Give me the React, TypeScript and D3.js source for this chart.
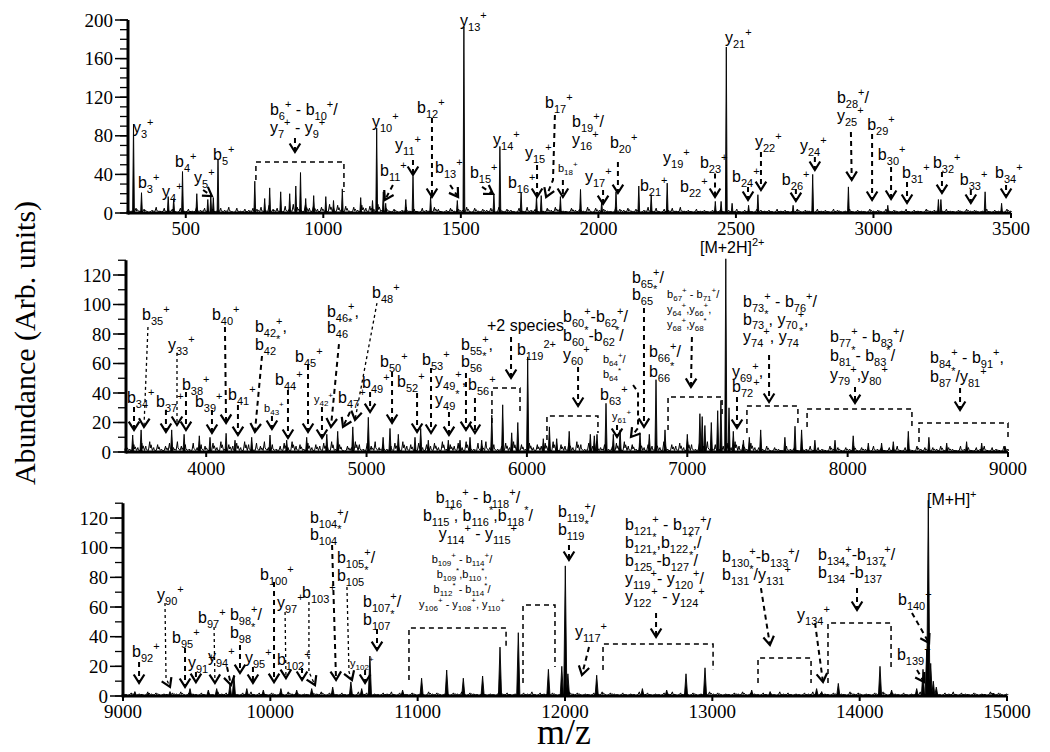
import React from 'react';
import * as d3 from 'd3';

// ---------------- DATA ----------------
// Panel 1 (m/z 290-3500) peaks: [m/z, abundance]
const P1_PEAKS: [number, number][] = [
  [310, 92], [339, 21], [436, 17], [456, 15], [488, 43], [540, 20], [580, 14], [591, 18], [600, 16], [617, 55],
  [751, 33], [787, 15], [805, 26], [845, 22], [878, 20], [900, 28], [917, 42], [936, 15], [965, 18], [1009, 17],
  [1037, 13], [1069, 25], [1136, 16], [1179, 13], [1194, 88], [1218, 22], [1227, 10], [1300, 14], [1326, 38], [1390, 17],
  [1487, 13], [1511, 193], [1620, 20], [1642, 69], [1719, 21], [1775, 17], [1792, 18], [1862, 17], [1935, 24.5], [2012, 12],
  [2064, 22], [2147, 28], [2192, 19], [2250, 31], [2425, 12], [2446, 12], [2465, 172], [2486, 10], [2546, 8], [2580, 19],
  [2708, 8], [2779, 40], [2909, 27], [3052, 8], [3236, 14], [3245, 14], [3406, 22], [3466, 10],
];
// Panel 2 (m/z 3500-9000)
const P2_PEAKS: [number, number][] = [
  [3542, 11.5], [3594, 15], [3785, 15], [3862, 12], [3957, 11], [4024, 10], [4124, 12.7], [4180, 8], [4284, 10], [4398, 11.5],
  [4502, 8], [4627, 10], [4752, 12], [4820, 14], [4914, 17], [5011, 23.5], [5103, 10], [5146, 16], [5198, 12], [5302, 10],
  [5338, 16], [5385, 8], [5510, 8], [5583, 8], [5645, 10], [5718, 8], [5781, 25], [5849, 32], [5905, 13], [5943, 20],
  [6005, 64.5], [6102, 9], [6140, 17], [6186, 9], [6264, 14], [6395, 12], [6420, 11], [6437, 12], [6493, 33], [6539, 12],
  [6581, 15], [6705, 13], [6763, 12], [6805, 49], [6861, 15], [7000, 12], [7079, 26], [7093, 24], [7110, 18], [7150, 20],
  [7190, 28], [7210, 35], [7240, 131], [7260, 30], [7287, 14], [7350, 8], [7387, 10], [7458, 15], [7609, 10], [7672, 17.5],
  [7713, 15], [7796, 8], [7921, 8], [8035, 11], [8129, 6], [8212, 6], [8285, 7], [8378, 14], [8507, 10], [8618, 6],
  [8742, 7], [8836, 6], [8981, 4],
];
// Panel 3 (m/z 9000-15000)
const P3_PEAKS: [number, number][] = [
  [9081, 3], [9172, 2], [9319, 3], [9455, 5], [9579, 4], [9636, 5], [9726, 8], [9753, 14], [9840, 5], [9952, 4],
  [10072, 5], [10179, 4], [10281, 5], [10423, 6], [10547, 9.5], [10620, 5], [10676, 27], [10898, 4], [11027, 12], [11197, 17.5],
  [11310, 12], [11441, 13.5], [11559, 33], [11683, 42.7], [11887, 18], [11978, 20], [12002, 87.7], [12020, 15], [12215, 14], [12525, 5],
  [12690, 4], [12821, 15], [12950, 19], [13267, 4], [13392, 3], [13708, 5], [13742, 3], [13855, 8.5], [14138, 20], [14217, 4],
  [14387, 5], [14430, 18], [14455, 31], [14466, 132], [14482, 22], [14500, 10], [14520, 6], [14907, 2],
];

// Baseline noise, one digit per sample, evenly spread over each panel's m/z range
const P1_NOISE =
  '32524136253415242635142536152435' +
  '4638452749638574639584726385749' +
  '352413624153264135243615243516243152634125364215342615342164352413625143526' +
  '2314231324132413214323142312413214231431241321423142312413214231242131423124132142';
const P2_NOISE =
  '4253647352463745263541637254637526473524637452635463725143752647352463745263546372546375264735246374526354637254637526473524637452635463725463752647352463745263' +
  '3241321423132413214231324132142313241321423132413214231324132142';
const P3_NOISE =
  '21312142312132413213121423121324132131214231213241321312142312132413213121423121324132131214231213241321312142312132413213121423121324132131214231213241321312142312132413213121423121324132131214231213241321312142312';

// Annotations: t = text lines (markup: _{sub} ^{sup}), x/y = m/z & abundance of first baseline,
// a = dashed arrow path in data coords (last point = arrow tip)
type Ann = { t: string[]; x: number; y: number; sm?: boolean; mid?: boolean; lh?: number; thin?: boolean; a?: [number, number][] };

const P1_ANN: Ann[] = [
  { t: ['y_{3}^{+}'], x: 308, y: 83 },
  { t: ['b_{3}^{+}'], x: 326, y: 26 },
  { t: ['y_{4}^{+}'], x: 414, y: 16.6 },
  { t: ['b_{4}^{+}'], x: 461, y: 47.7 },
  { t: ['y_{5}^{+}'], x: 530, y: 31, a: [[563, 23.8], [595, 17.6]] },
  { t: ['b_{5}^{+}'], x: 599, y: 55 },
  { t: ['b_{6}^{+} - b_{10}^{+}/', 'y_{7}^{+} - y_{9}^{+}'], x: 806, y: 101.6, a: [[897, 77.7], [897, 63.2]] },
  { t: ['y_{10}^{+}'], x: 1177, y: 89 },
  { t: ['b_{11}^{+}'], x: 1206, y: 38.3, a: [[1253, 29], [1224, 13.5]] },
  { t: ['y_{11}^{+}'], x: 1261, y: 65.3, a: [[1326, 55], [1326, 39.4]] },
  { t: ['b_{12}^{+}'], x: 1341, y: 103.6, a: [[1395, 98.4], [1395, 16.6]] },
  { t: ['b_{13}^{+}'], x: 1406, y: 41.5, a: [[1461, 29], [1490, 16.6]] },
  { t: ['y_{13}^{+}'], x: 1497, y: 193.8 },
  { t: ['b_{15}^{+}'], x: 1533, y: 36.3, a: [[1577, 27], [1617, 19.7]] },
  { t: ['y_{14}^{+}'], x: 1617, y: 70.5 },
  { t: ['b_{16}^{+}'], x: 1671, y: 26 },
  { t: ['y_{15}^{+}'], x: 1733, y: 57, a: [[1777, 49.7], [1777, 16.6]] },
  { t: ['b_{17}^{+}'], x: 1806, y: 108.8, a: [[1842, 101.6], [1835, 34.2], [1810, 16.6]] },
  { t: ['b_{18}^{+}'], sm: true, x: 1853, y: 42.5, a: [[1871, 34.2], [1871, 16.6]] },
  { t: ['b_{19}^{+}/', 'y_{16}^{+}'], x: 1904, y: 89.1 },
  { t: ['y_{17}^{+}'], x: 1951, y: 32.1, a: [[2017, 23.8], [2017, 9.3]] },
  { t: ['b_{20}^{+}'], x: 2042, y: 67.4, a: [[2071, 52.9], [2071, 20.7]] },
  { t: ['b_{21}^{+}'], x: 2151, y: 22.8 },
  { t: ['y_{19}^{+}'], x: 2235, y: 51.8 },
  { t: ['b_{22}^{+}'], x: 2297, y: 21.8 },
  { t: ['b_{23}^{+}'], x: 2369, y: 46.6, a: [[2424, 41], [2424, 16.6]] },
  { t: ['y_{21}^{+}'], x: 2460, y: 176.2 },
  { t: ['b_{24}^{+}'], x: 2486, y: 32.1, a: [[2544, 27], [2544, 13.5]] },
  { t: ['y_{22}^{+}'], x: 2569, y: 68.4, a: [[2591, 63.2], [2591, 23.8]] },
  { t: ['b_{26}^{+}'], x: 2667, y: 29, a: [[2718, 24.9], [2718, 12.4]] },
  { t: ['y_{24}^{+}'], x: 2733, y: 64.2, a: [[2787, 58], [2787, 44.6]] },
  { t: ['b_{28}^{+}/', 'y_{25}^{+}'], x: 2867, y: 114, a: [[2918, 83.9], [2921, 34.2]] },
  { t: ['b_{29}^{+}'], x: 2977, y: 86, a: [[2995, 81.9], [2995, 13.5]] },
  { t: ['b_{30}^{+}'], x: 3016, y: 54.9, a: [[3064, 47.7], [3064, 14.5]] },
  { t: ['b_{31}^{+}'], x: 3104, y: 36.3, a: [[3122, 32.1], [3122, 10.4]] },
  { t: ['b_{32}^{+}'], x: 3216, y: 46.6, a: [[3249, 42.5], [3249, 20.7]] },
  { t: ['b_{33}^{+}'], x: 3314, y: 29, a: [[3354, 23.8], [3354, 10.4]] },
  { t: ['b_{34}^{+}'], x: 3442, y: 36.3, a: [[3482, 29], [3482, 16.6]] },
];
// boxes: [x1, x2, top, left-bottom, right-bottom] in data coords
const P1_BOX: [number, number, number, number, number][] = [[755, 1075, 52.8, 34.2, 21.8]];

const P2_ANN: Ann[] = [
  { t: ['b_{34}^{+}'], x: 3506, y: 33.2, a: [[3550, 30.5], [3550, 14.9]] },
  { t: ['b_{35}^{+}'], x: 3600, y: 89.5, thin: true, a: [[3637, 84.8], [3612, 17]] },
  { t: ['y_{33}^{+}'], x: 3762, y: 69.2, thin: true, a: [[3818, 67.1], [3818, 18.3]] },
  { t: ['b_{37}^{+}'], x: 3687, y: 30.5, a: [[3749, 28.5], [3749, 13.6]] },
  { t: ['b_{38}^{+}'], x: 3849, y: 42, a: [[3874, 40.7], [3874, 14.9]] },
  { t: ['b_{39}^{+}'], x: 3930, y: 30.5, a: [[4036, 28.5], [4036, 12.9]] },
  { t: ['b_{40}^{+}'], x: 4036, y: 89.5, a: [[4117, 84.8], [4124, 19.7]] },
  { t: ['b_{41}^{+}'], x: 4136, y: 35.3, a: [[4198, 31.9], [4198, 11.5]] },
  { t: ['b_{42}^{+},', 'b_{42}^{*}'], x: 4304, y: 81.4, a: [[4348, 65.1], [4304, 13.6]] },
  { t: ['b_{43}^{+}'], sm: true, x: 4361, y: 27.1, a: [[4410, 24.4], [4410, 15.6]] },
  { t: ['b_{44}^{+}'], x: 4429, y: 45.4, a: [[4510, 42], [4510, 9.5]] },
  { t: ['b_{45}^{+}'], x: 4554, y: 61, a: [[4635, 59], [4635, 13.6]] },
  { t: ['y_{42}^{+}'], sm: true, x: 4672, y: 33.2, a: [[4722, 30.5], [4722, 9.5]] },
  { t: ['b_{46}^{+},', 'b_{46}^{*}'], x: 4753, y: 91.5, lh: 16, a: [[4828, 73.2], [4778, 17]] },
  { t: ['b_{47}^{+}'], x: 4822, y: 33.2, a: [[4897, 27.1], [4853, 17]] },
  { t: ['b_{48}^{+}'], x: 5034, y: 104.4, thin: true, a: [[5065, 101], [4928, 21.7]] },
  { t: ['b_{49}^{+}'], x: 4972, y: 43.4, a: [[5022, 40.7], [5022, 27.1]] },
  { t: ['b_{50}^{+}'], x: 5084, y: 57.6, a: [[5159, 54.2], [5159, 19.7]] },
  { t: ['b_{52}^{+}'], x: 5190, y: 44.1, a: [[5315, 40], [5315, 13.6]] },
  { t: ['b_{53}^{+}'], x: 5346, y: 59, a: [[5402, 57], [5402, 12.9]] },
  { t: ['y_{49}^{+},', 'y_{49}^{*}'], x: 5427, y: 45.4, lh: 20, a: [[5514, 27.1], [5514, 11.5]] },
  { t: ['b_{55}^{+},', 'b_{56}^{*}'], x: 5589, y: 69.2, lh: 17, a: [[5620, 53.6], [5620, 14.9]] },
  { t: ['b_{56}^{+}'], x: 5633, y: 42, a: [[5676, 36.6], [5676, 12.9]] },
  { t: ['+2 species'], x: 5751, y: 82, a: [[5901, 78], [5901, 50.2]] },
  { t: ['b_{119}^{2+}'], x: 5938, y: 65.8 },
  { t: ['b_{60}^{+}-b_{62}^{+}/', 'b_{60}^{*}-b_{62}^{*}/', 'y_{60}^{+}'], x: 6225, y: 88.1, lh: 19, a: [[6319, 57.6], [6319, 31.2]] },
  { t: ['b_{64}^{+}/', 'b_{64}^{*}'], sm: true, x: 6474, y: 60.3, a: [[6662, 45.4], [6693, 40.7], [6693, 16.3], [6649, 10.2]] },
  { t: ['b_{63}^{+}'], x: 6456, y: 35.3 },
  { t: ['y_{61}^{+}'], sm: true, x: 6531, y: 21.7, a: [[6562, 18.3], [6562, 10.2]] },
  { t: ['b_{65}^{+}/', 'b_{65}^{*}'], x: 6655, y: 114.6, lh: 17, a: [[6730, 97.6], [6730, 17]] },
  { t: ['b_{66}^{+}/', 'b_{66}^{*}'], x: 6761, y: 64.4, lh: 20 },
  { t: ['b_{67}^{+} - b_{71}^{+}/', 'y_{64}^{+},y_{66}^{+},', 'y_{68}^{+},y_{68}^{*}'], sm: true, x: 6874, y: 104.4, a: [[7029, 78], [7023, 44.1]] },
  { t: ['[M+2H]^{2+}'], x: 7079, y: 134.9 },
  { t: ['b_{73}^{+} - b_{76}^{+}/', 'b_{73}^{*}, y_{70}^{+},', 'y_{74}^{+}, y_{74}^{*}'], x: 7348, y: 98.3, lh: 17.5, a: [[7510, 65.8], [7510, 33.9]] },
  { t: ['y_{69}^{+},', 'b_{72}^{+}'], x: 7279, y: 50.9, lh: 15.5, a: [[7310, 37.3], [7310, 16.3]] },
  { t: ['b_{77}^{+} - b_{83}^{+}/', 'b_{81}^{*}- b_{83}^{*}/', 'y_{79}^{+},y_{80}^{+}'], x: 7890, y: 74.6, lh: 19, a: [[8046, 44.1], [8046, 33.2]] },
  { t: ['b_{84}^{+} - b_{91}^{+},', 'b_{87}^{*}/y_{81}^{+}'], x: 8514, y: 60.3, lh: 19, a: [[8701, 43.4], [8701, 28.5]] },
];
const P2_BOX: [number, number, number, number, number][] = [
  [5782, 5957, 43.4, 19.7, 26.4],
  [6125, 6443, 24.4, 8.1, 12.9],
  [6880, 7217, 37.3, 14.9, 23.7],
  [7372, 7690, 31.2, 12.9, 17],
  [7747, 8401, 29.2, 17, 17],
  [8445, 9000, 19.7, 6.8, 8.1],
];

const P3_ANN: Ann[] = [
  { t: ['b_{92}^{+}'], x: 9061, y: 26.3, a: [[9109, 22.9], [9109, 8.8]] },
  { t: ['y_{90}^{+}'], x: 9231, y: 64.7, thin: true, a: [[9285, 62.7], [9292, 12.1], [9319, 6.1]] },
  { t: ['b_{95}^{+}'], x: 9333, y: 35.7, a: [[9421, 32.4], [9421, 6.1]] },
  { t: ['y_{91}^{+}'], x: 9441, y: 18.9, a: [[9495, 16.2], [9495, 9.4]] },
  { t: ['b_{97}^{+}'], x: 9509, y: 49.2, thin: true, a: [[9618, 46.5], [9624, 8.8]] },
  { t: ['y_{94}^{+}'], x: 9577, y: 22.9, a: [[9706, 19.6], [9733, 7.4]] },
  { t: ['b_{98}^{+}/', 'b_{98}^{*}'], x: 9726, y: 51.2, a: [[9794, 34.4], [9794, 15.5]] },
  { t: ['y_{95}^{+}'], x: 9828, y: 22.3, a: [[9882, 19.6], [9882, 8.8]] },
  { t: ['b_{100}^{+}'], x: 9930, y: 78.2, a: [[10025, 76.9], [10025, 9.4]] },
  { t: ['y_{97}^{+}'], x: 10045, y: 59.3, thin: true, a: [[10100, 56.6], [10106, 12.1]] },
  { t: ['b_{102}^{+}'], x: 10045, y: 20.9, a: [[10215, 18.9], [10215, 10.8]] },
  { t: ['b_{103}^{+}'], x: 10215, y: 66.1, thin: true, a: [[10262, 63.4], [10262, 16.2], [10303, 7.4]] },
  { t: ['b_{104}^{+}/', 'b_{104}^{*}'], x: 10269, y: 116.7, lh: 17, a: [[10419, 101.8], [10446, 10.8]] },
  { t: ['b_{105}^{+}/', 'b_{105}^{*}'], x: 10452, y: 89.7, thin: true, a: [[10520, 73.5], [10534, 16.2], [10554, 10.8]] },
  { t: ['y_{102}^{+}'], sm: true, x: 10541, y: 19.6, a: [[10643, 17.5], [10643, 8.8]] },
  { t: ['b_{107}^{+}/', 'b_{107}^{*}'], x: 10629, y: 60, a: [[10724, 45.2], [10724, 31]] },
  { t: ['b_{109}^{+} - b_{114}^{+}/', 'b_{109}^{*},b_{110}^{*},', 'b_{112}^{*} - b_{114}^{*}/', 'y_{106}^{+} - y_{108}^{+}, y_{110}^{+}'], sm: true, mid: true, x: 11301, y: 89.7 },
  { t: ['b_{116}^{+} - b_{118}^{+}/', 'b_{115}^{*}, b_{116}^{*},b_{118}^{*}/', 'y_{114}^{+} - y_{115}^{+}'], mid: true, x: 11409, y: 130.1 },
  { t: ['b_{119}^{+}/', 'b_{119}^{*}'], x: 11952, y: 120.7, a: [[12027, 101.8], [12027, 91.7]] },
  { t: ['y_{117}^{+}'], x: 12068, y: 39.8, a: [[12163, 33], [12115, 14.2]] },
  { t: ['b_{121}^{+} - b_{127}^{+}/', 'b_{121}^{*},b_{122}^{*},/', 'b_{125}^{*}-b_{127}^{*}/', 'y_{119}^{+}- y_{120}^{+}/', 'y_{122}^{+} - y_{124}^{+}'], x: 12407, y: 111.9, a: [[12618, 56], [12618, 39.8]] },
  { t: ['b_{130}^{+}-b_{133}^{+}/', 'b_{131}^{*}/y_{131}^{+}'], x: 13066, y: 90.4, a: [[13330, 72.8], [13391, 34.4]] },
  { t: ['y_{134}^{+}'], x: 13575, y: 51.2, a: [[13697, 49.2], [13751, 9.4]] },
  { t: ['b_{134}^{+}-b_{137}^{+}/', 'b_{134}^{*}-b_{137}^{*}'], x: 13717, y: 91.7, a: [[13982, 72.8], [13982, 58]] },
  { t: ['b_{140}^{+}'], x: 14260, y: 61.4, a: [[14355, 56], [14471, 35.7]] },
  { t: ['b_{139}^{+}'], x: 14253, y: 24.3, a: [[14389, 17.5], [14437, 9.4]] },
  { t: ['[M+H]^{+}'], x: 14457, y: 128.8 },
];
const P3_BOX: [number, number, number, number, number][] = [
  [10941, 11600, 45.9, 10.8, 33],
  [11715, 11932, 61.4, 8.8, 19.6],
  [12258, 13005, 35.1, 17.5, 17.5],
  [13310, 13670, 25.6, 8.8, 8.8],
  [13785, 14213, 49.2, 8.8, 19.6],
];

const P1_XTICKS = [500, 1000, 1500, 2000, 2500, 3000, 3500];
const P2_XTICKS = [4000, 5000, 6000, 7000, 8000, 9000];
const P3_XTICKS = [9000, 10000, 11000, 12000, 13000, 14000, 15000];
const P1_YTICKS = [0, 40, 80, 120, 160, 200];
const P23_YTICKS = [0, 20, 40, 60, 80, 100, 120];

// ---------------- RENDERING ----------------
const SANS = "'Liberation Sans', Arial, Helvetica, sans-serif";
const SERIF = "'Liberation Serif', 'Times New Roman', Times, serif";

type Seg = { k: 'n' | 'sub' | 'sup'; t: string };
function parseRich(s: string): Seg[] {
  const out: Seg[] = [];
  const re = /([_^])\{([^}]*)\}|([^_^]+)/g;
  let m: RegExpExecArray | null;
  while ((m = re.exec(s))) {
    if (m[1]) out.push({ k: m[1] === '_' ? 'sub' : 'sup', t: m[2] });
    else out.push({ k: 'n', t: m[3] });
  }
  return out;
}

function RichLine({ x, y, s, size, anchor }: { x: number; y: number; s: string; size: number; anchor: string }) {
  const segs = parseRich(s);
  const small = Math.round(size * 0.7);
  let shift = 0;
  return (
    <text x={x} y={y} textAnchor={anchor} fontFamily={SANS} fontSize={size} fill="#000" style={{ whiteSpace: 'pre' }}>
      {segs.map((g, i) => {
        const target = g.k === 'sub' ? size * 0.3 : g.k === 'sup' ? -size * 0.42 : 0;
        const dy = target - shift;
        shift = target;
        return (
          <tspan key={i} dy={dy} fontSize={g.k === 'n' ? size : small}>
            {g.t}
          </tspan>
        );
      })}
    </text>
  );
}

type Cfg = {
  xDomain: [number, number];
  xRange: [number, number];
  yDomain: [number, number];
  yRange: [number, number];
  xTicks: number[];
  yTicks: number[];
  yMinorMax: number;
  labelY: number;
  peaks: [number, number][];
  noise: string;
  noiseScale: number;
  peakW: number;
  ann: Ann[];
  boxes: [number, number, number, number, number][];
};

function Panel({ c }: { c: Cfg }) {
  const x = d3.scaleLinear().domain(c.xDomain).range(c.xRange);
  const y = d3.scaleLinear().domain(c.yDomain).range(c.yRange);
  const y0 = y(0);
  const x0 = c.xRange[0];

  // noise samples drawn as a spiky trace
  const n = c.noise.length;
  const step = (c.xDomain[1] - c.xDomain[0]) / (n - 1);
  const noisePts: [number, number][] = c.noise.split('').map((ch, i) => [c.xDomain[0] + i * step, +ch * c.noiseScale]);
  const trace: [number, number][] = [];
  noisePts.forEach((d, i) => {
    const px = x(d[0]);
    trace.push([px - 1.3, y0 - 1.5]);
    trace.push([px, y(d[1])]);
    trace.push([px + 0.6, y(d[1] * 0.4)]);
    if (i % 2 === 0) trace.push([px + 1.3, y(d[1] * 0.7)]);
  });
  const traceLine = d3.line();

  const peakPath = c.peaks
    .map(([m, v]) => {
      const px = x(m);
      const py = y(v);
      return `M${(px - c.peakW).toFixed(1)},${y0}L${px.toFixed(1)},${py.toFixed(1)}L${(px + c.peakW).toFixed(1)},${y0}Z`;
    })
    .join('');

  const minor: number[] = [];
  for (let v = 0; v <= c.yMinorMax; v += 10) minor.push(v);

  return (
    <g>
      {/* spectrum */}
      <path d={traceLine(trace) || ''} stroke="#000" strokeWidth={1} fill="none" strokeLinejoin="round" />
      <path d={peakPath} fill="#000" stroke="#000" strokeWidth={0.9} strokeLinejoin="miter" />

      {/* axes */}
      <line x1={x0} x2={c.xRange[1]} y1={y0} y2={y0} stroke="#000" strokeWidth={3} />
      <line x1={x0} x2={x0} y1={y0 + 1.5} y2={c.yRange[1]} stroke="#000" strokeWidth={3} />
      {minor.map((v) => (
        <line key={'m' + v} x1={x0 - 8} x2={x0} y1={y(v)} y2={y(v)} stroke="#000" strokeWidth={1.3} />
      ))}
      {c.yTicks.map((v) => (
        <g key={'y' + v}>
          <line x1={x0 - 13} x2={x0} y1={y(v)} y2={y(v)} stroke="#000" strokeWidth={1.5} />
          <text x={x0 - 15} y={y(v)} dy="0.35em" textAnchor="end" fontFamily={SERIF} fontSize={19} fill="#000">
            {v}
          </text>
        </g>
      ))}
      {c.xTicks.map((v) => (
        <g key={'x' + v}>
          <line x1={x(v)} x2={x(v)} y1={y0} y2={y0 + 5} stroke="#000" strokeWidth={2} />
          <text x={x(v)} y={c.labelY} textAnchor="middle" fontFamily={SERIF} fontSize={19} fill="#000">
            {v}
          </text>
        </g>
      ))}

      {/* boxes */}
      {c.boxes.map((b, i) => (
        <path
          key={'b' + i}
          d={`M${x(b[0])},${y(b[3])}L${x(b[0])},${y(b[2])}L${x(b[1])},${y(b[2])}L${x(b[1])},${y(b[4])}`}
          fill="none"
          stroke="#000"
          strokeWidth={1.5}
          strokeDasharray="5,4"
        />
      ))}

      {/* annotations */}
      {c.ann.map((a, i) => {
        const size = a.sm ? 11 : 16;
        const lh = a.lh ?? (a.sm ? 15 : 18);
        let arrow = null;
        if (a.a) {
          const P = a.a.map(([m, v]) => [x(m), y(v)] as [number, number]);
          const tip = P[P.length - 1];
          const prev = P[P.length - 2];
          const ang = Math.atan2(tip[1] - prev[1], tip[0] - prev[0]);
          const L = 10;
          const sp = 0.56;
          const a1 = [tip[0] - L * Math.cos(ang - sp), tip[1] - L * Math.sin(ang - sp)];
          const a2 = [tip[0] - L * Math.cos(ang + sp), tip[1] - L * Math.sin(ang + sp)];
          arrow = (
            <g>
              <path
                d={d3.line()(P) || ''}
                fill="none"
                stroke="#000"
                strokeWidth={a.thin ? 1.3 : 2}
                strokeDasharray={a.thin ? '3,3' : '5,4'}
              />
              <path d={`M${a1[0]},${a1[1]}L${tip[0]},${tip[1]}L${a2[0]},${a2[1]}`} fill="none" stroke="#000" strokeWidth={2.2} />
            </g>
          );
        }
        return (
          <g key={'a' + i}>
            {a.t.map((s, j) => (
              <RichLine key={j} x={x(a.x)} y={y(a.y) + j * lh} s={s} size={size} anchor={a.mid ? 'middle' : 'start'} />
            ))}
            {arrow}
          </g>
        );
      })}
    </g>
  );
}

const PANELS: Cfg[] = [
  {
    xDomain: [290, 3500], xRange: [128, 1011], yDomain: [0, 200], yRange: [213, 20],
    xTicks: P1_XTICKS, yTicks: P1_YTICKS, yMinorMax: 200, labelY: 235,
    peaks: P1_PEAKS, noise: P1_NOISE, noiseScale: 1, peakW: 0.9, ann: P1_ANN, boxes: P1_BOX,
  },
  {
    xDomain: [3500, 9000], xRange: [126, 1008], yDomain: [0, 130], yRange: [452, 452 - 130 * 1.475],
    xTicks: P2_XTICKS, yTicks: P23_YTICKS, yMinorMax: 130, labelY: 475,
    peaks: P2_PEAKS, noise: P2_NOISE, noiseScale: 1, peakW: 1.1, ann: P2_ANN, boxes: P2_BOX,
  },
  {
    xDomain: [9000, 15000], xRange: [123, 1007], yDomain: [0, 130], yRange: [696, 696 - 130 * 1.483],
    xTicks: P3_XTICKS, yTicks: P23_YTICKS, yMinorMax: 130, labelY: 718,
    peaks: P3_PEAKS, noise: P3_NOISE, noiseScale: 0.7, peakW: 1.6, ann: P3_ANN, boxes: P3_BOX,
  },
];

export default function App() {
  return (
    <svg
      width={1050}
      height={752}
      viewBox="0 0 1050 752"
      style={{ position: 'absolute', left: 0, top: 0, background: '#fff' }}
    >
      <rect x={0} y={0} width={1050} height={752} fill="#fff" />
      {PANELS.map((c, i) => (
        <Panel key={i} c={c} />
      ))}
      <text
        transform="translate(35,343) rotate(-90)"
        textAnchor="middle"
        fontFamily={SERIF}
        fontSize={30}
        fill="#000"
      >
        Abundance (Arb. units)
      </text>
      <text x={564} y={744} textAnchor="middle" fontFamily={SERIF} fontSize={36} fill="#000">
        m/z
      </text>
    </svg>
  );
}
